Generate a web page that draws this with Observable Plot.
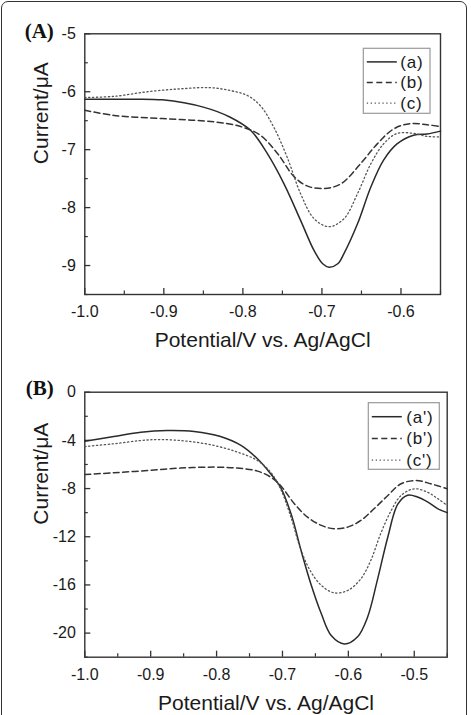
<!DOCTYPE html>
<html>
<head>
<meta charset="utf-8">
<script src="https://cdn.jsdelivr.net/npm/d3@7"></script>
<script src="https://cdn.jsdelivr.net/npm/@observablehq/plot@0.6"></script>
<style>
  html, body { margin: 0; padding: 0; background: #fff; }
  #page { position: relative; width: 471px; height: 715px; overflow: hidden; }
  #border {
    position: absolute; left: 1px; top: 1px; width: 464px; height: 730px;
    border: 1.6px solid #333; border-radius: 7px;
  }
  #page svg { display: block; position: relative; }
</style>
</head>
<body>
<div id="page"><div id="border"></div></div>
<script>
// Panel A: DPV curves (a), (b), (c)
const aX = [-1.0, -0.95, -0.902, -0.849, -0.816, -0.79, -0.769, -0.748, -0.727, -0.71, -0.699, -0.691, -0.68, -0.672, -0.655, -0.638, -0.622, -0.605, -0.584, -0.567, -0.55];
const aY = [-6.13, -6.13, -6.14, -6.27, -6.44, -6.67, -7.07, -7.59, -8.22, -8.74, -8.97, -9.03, -8.97, -8.79, -8.28, -7.64, -7.18, -6.9, -6.75, -6.73, -6.68];
const bX = [-1.0, -0.963, -0.921, -0.879, -0.837, -0.803, -0.778, -0.756, -0.735, -0.718, -0.697, -0.676, -0.651, -0.63, -0.609, -0.588, -0.567, -0.55];
const bY = [-6.32, -6.41, -6.45, -6.48, -6.52, -6.6, -6.75, -7.07, -7.47, -7.63, -7.67, -7.59, -7.24, -6.9, -6.64, -6.55, -6.57, -6.6];
const cX = [-1.0, -0.963, -0.921, -0.879, -0.841, -0.816, -0.795, -0.778, -0.761, -0.744, -0.727, -0.71, -0.691, -0.672, -0.655, -0.638, -0.622, -0.605, -0.584, -0.567, -0.55];
const cY = [-6.1, -6.08, -6.0, -5.95, -5.93, -5.98, -6.06, -6.24, -6.61, -7.13, -7.76, -8.19, -8.33, -8.19, -7.76, -7.24, -6.9, -6.72, -6.72, -6.77, -6.78];

// Panel B: DPV curves (a'), (b'), (c')
const a2X = [-1.0, -0.956, -0.915, -0.875, -0.834, -0.794, -0.763, -0.738, -0.718, -0.703, -0.687, -0.672, -0.657, -0.641, -0.626, -0.606, -0.586, -0.571, -0.556, -0.54, -0.525, -0.51, -0.495, -0.48, -0.464, -0.45];
const a2Y = [-4.07, -3.68, -3.32, -3.18, -3.26, -3.68, -4.42, -5.53, -6.77, -7.88, -10.1, -13.1, -15.9, -18.4, -20.2, -20.9, -20.3, -18.7, -15.6, -12.0, -9.3, -8.55, -8.7, -9.1, -9.68, -10.0];
const b2X = [-1.0, -0.956, -0.905, -0.855, -0.804, -0.768, -0.738, -0.718, -0.703, -0.682, -0.662, -0.641, -0.622, -0.601, -0.581, -0.561, -0.54, -0.52, -0.497, -0.475, -0.45];
const b2Y = [-6.83, -6.69, -6.5, -6.3, -6.22, -6.3, -6.55, -7.05, -7.74, -9.26, -10.37, -11.06, -11.34, -11.2, -10.65, -9.68, -8.57, -7.6, -7.33, -7.6, -8.02];
const c2X = [-1.0, -0.956, -0.915, -0.885, -0.844, -0.804, -0.768, -0.738, -0.718, -0.703, -0.687, -0.672, -0.657, -0.641, -0.622, -0.601, -0.581, -0.566, -0.551, -0.535, -0.52, -0.5, -0.48, -0.464, -0.45];
const c2Y = [-4.51, -4.28, -4.01, -3.93, -4.07, -4.42, -4.98, -5.67, -6.64, -8.02, -10.4, -13.1, -14.9, -16.04, -16.65, -16.46, -15.49, -13.97, -11.75, -9.82, -8.57, -8.02, -8.3, -8.85, -9.4];

// Axis ticks
const xTicksA = [-1.0, -0.9, -0.8, -0.7, -0.6];
const xMinorA = [-0.95, -0.85, -0.75, -0.65, -0.55];
const yTicksA = [-5, -6, -7, -8, -9];
const yMinorA = [-5.5, -6.5, -7.5, -8.5, -9.5];
const xTicksB = [-1.0, -0.9, -0.8, -0.7, -0.6, -0.5];
const xMinorB = [-0.95, -0.85, -0.75, -0.65, -0.55, -0.45];
const yTicksB = [0, -4, -8, -12, -16, -20];
const yMinorB = [-2, -6, -10, -14, -18, -22];

const namesA = ["(a)", "(b)", "(c)"];
const namesB = ["(a')", "(b')", "(c')"];
const xTitle = "Potential/V vs. Ag/AgCl";
const yTitle = "Current/\u03bcA";

const styles = [
  {stroke: "#2a2a2a", strokeWidth: 1.5, strokeDasharray: null},
  {stroke: "#333", strokeWidth: 1.5, strokeDasharray: "6,3.5"},
  {stroke: "#555", strokeWidth: 1.3, strokeDasharray: "1.3,2.6"}
];

const rows = (xs, ys) => xs.map((x, i) => ({x, y: ys[i]}));
const blank = () => "";

function panel(cfg) {
  const series = cfg.series;
  const marks = [
    // tick labels
    Plot.axisX(cfg.xTicks, {tickSize: 0, tickPadding: cfg.xPad, tickFormat: d => d.toFixed(1), fontSize: 16, fill: "#1a1a1a", label: null}),
    Plot.axisY(cfg.yTicks, {tickSize: 0, tickPadding: 9, tickFormat: d => String(d), fontSize: 16, fill: "#1a1a1a", label: null}),
    // inward major and minor ticks
    Plot.axisX(cfg.xTicks, {tickSize: -6, tickFormat: blank, label: null, stroke: "#333", strokeWidth: 1.3}),
    Plot.axisX(cfg.xMinor, {tickSize: -3.5, tickFormat: blank, label: null, stroke: "#333", strokeWidth: 1.2}),
    Plot.axisY(cfg.yTicks, {tickSize: -6, tickFormat: blank, label: null, stroke: "#333", strokeWidth: 1.3}),
    Plot.axisY(cfg.yMinor, {tickSize: -3.5, tickFormat: blank, label: null, stroke: "#333", strokeWidth: 1.2}),
    Plot.frame({stroke: "#333", strokeWidth: 1.4}),
    ...series.map((s, i) => Plot.line(rows(s[0], s[1]), {x: "x", y: "y", curve: "catmull-rom", ...styles[i]})),
    Plot.text([xTitle], {frameAnchor: "bottom", dy: cfg.xTitleDy, fontSize: 21, fill: "#1a1a1a", lineAnchor: "middle"}),
    Plot.text([yTitle], {frameAnchor: "left", dx: -44, rotate: -90, fontSize: 21, fill: "#1a1a1a", lineAnchor: "middle"}),
    Plot.text([cfg.tag], {frameAnchor: "top-left", dx: -31, dy: cfg.tagDy, textAnchor: "end", lineAnchor: "middle", fontSize: 21, fontWeight: "bold", fontFamily: "Liberation Serif", fill: "#111"})
  ];
  const svg = Plot.plot({
    width: 471,
    height: cfg.height,
    marginLeft: 84.3,
    marginRight: cfg.marginRight,
    marginTop: cfg.marginTop,
    marginBottom: cfg.marginBottom,
    x: {domain: cfg.xDomain},
    y: {domain: cfg.yDomain},
    style: {fontFamily: "'Liberation Sans', Arial, sans-serif", background: "transparent", overflow: "visible"},
    marks
  });

  // legend box in the upper-right corner of the frame
  const lg = cfg.legend;
  const g = d3.select(svg).append("g").attr("text-anchor", "start");
  g.append("rect")
    .attr("x", lg.x).attr("y", lg.y).attr("width", lg.w).attr("height", lg.h)
    .attr("fill", "#fff").attr("stroke", "#999").attr("stroke-width", 1.2);
  cfg.names.forEach((name, i) => {
    const yy = lg.y + lg.first + i * lg.step;
    g.append("line")
      .attr("x1", lg.x + 3.5).attr("x2", lg.x + 33.5).attr("y1", yy).attr("y2", yy)
      .attr("stroke", styles[i].stroke).attr("stroke-width", styles[i].strokeWidth)
      .attr("stroke-dasharray", styles[i].strokeDasharray);
    g.append("text")
      .attr("x", lg.x + lg.textDx).attr("y", yy).attr("dy", "0.35em")
      .attr("text-anchor", "start")
      .attr("font-size", 17).attr("fill", "#1a1a1a")
      .attr("letter-spacing", "0.8px")
      .attr("font-family", "'Liberation Sans', Arial, sans-serif")
      .text(name);
  });
  return svg;
}

const page = document.getElementById("page");

page.appendChild(panel({
  height: 355, marginTop: 33.3, marginBottom: 61, marginRight: 31,
  xDomain: [-1.0, -0.55], yDomain: [-9.5, -5],
  xTicks: xTicksA, xMinor: xMinorA, yTicks: yTicksA, yMinor: yMinorA,
  xPad: 11, xTitleDy: 46, tag: "(A)", tagDy: -3,
  series: [[aX, aY], [bX, bY], [cX, cY]],
  names: namesA,
  legend: {x: 363.3, y: 48.3, w: 66.7, h: 65, first: 13.6, step: 20.6, textDx: 37}
}));

page.appendChild(panel({
  height: 360, marginTop: 36.7, marginBottom: 58.3, marginRight: 24.3,
  xDomain: [-1.0, -0.45], yDomain: [-22, 0],
  xTicks: xTicksB, xMinor: xMinorB, yTicks: yTicksB, yMinor: yMinorB,
  xPad: 11.6, xTitleDy: 46.3, tag: "(B)", tagDy: -3.5,
  series: [[a2X, a2Y], [b2X, b2Y], [c2X, c2Y]],
  names: namesB,
  legend: {x: 368.3, y: 47.7, w: 71, h: 66.6, first: 14, step: 21.7, textDx: 38}
}));
</script>
</body>
</html>
